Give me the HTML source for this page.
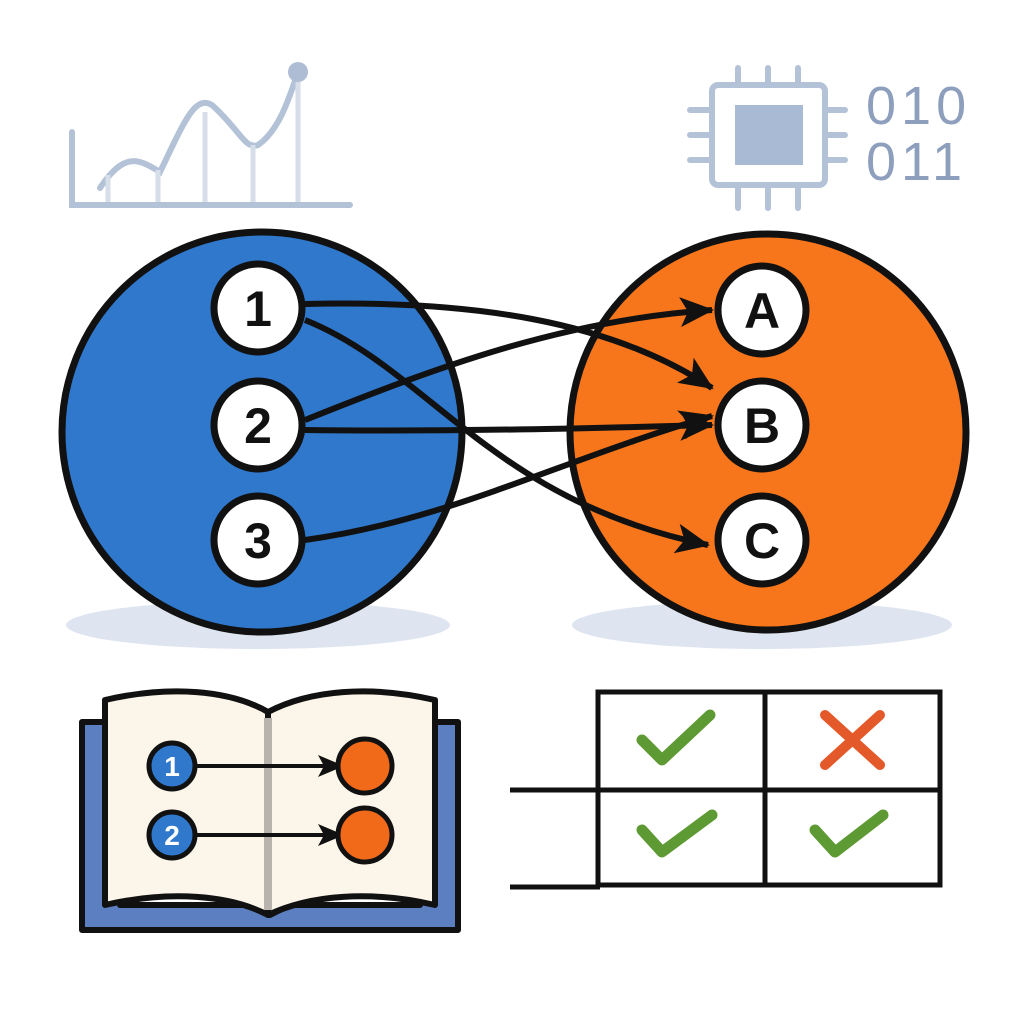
<!DOCTYPE html>
<html><head><style>body{margin:0;background:#fff}svg{display:block}</style></head><body>
<svg width="1024" height="1024" viewBox="0 0 1024 1024" xmlns="http://www.w3.org/2000/svg">
<defs>
<marker id="ah2" markerWidth="36" markerHeight="30" refX="32" refY="15" orient="auto" markerUnits="userSpaceOnUse"><path d="M0,0 L34,15 L0,30 L8,15z" fill="#111"/></marker>
<marker id="ah3" markerWidth="26" markerHeight="22" refX="24" refY="11" orient="auto" markerUnits="userSpaceOnUse"><path d="M0,0 L26,11 L0,22 L6,11z" fill="#111"/></marker>
</defs>
<g stroke="#b3c2d6" stroke-width="6" fill="none" stroke-linecap="round">
<path d="M72,132 V205 H350"/>
<path d="M100,188 C125,150 140,160 160,172 C185,120 195,95 212,105 C240,130 245,150 258,145 C280,130 290,95 298,72"/>
</g>
<g stroke="#d6dee9" stroke-width="5"><line x1="108" y1="175" x2="108" y2="202"/><line x1="158" y1="170" x2="158" y2="202"/><line x1="205" y1="112" x2="205" y2="202"/><line x1="253" y1="145" x2="253" y2="202"/><line x1="298" y1="80" x2="298" y2="202"/></g>
<circle cx="298" cy="72" r="10" fill="#aebdd3"/>
<rect x="712" y="85" width="113" height="100" rx="6" fill="none" stroke="#b3c2d6" stroke-width="6"/>
<rect x="735" y="105" width="68" height="60" fill="#a9bbd4"/>
<g stroke="#b3c2d6" stroke-width="6" stroke-linecap="round">
<line x1="738" y1="68" x2="738" y2="85"/><line x1="768" y1="68" x2="768" y2="85"/><line x1="798" y1="68" x2="798" y2="85"/>
<line x1="738" y1="185" x2="738" y2="208"/><line x1="768" y1="185" x2="768" y2="208"/><line x1="798" y1="185" x2="798" y2="208"/>
<line x1="690" y1="110" x2="712" y2="110"/><line x1="690" y1="135" x2="712" y2="135"/><line x1="690" y1="160" x2="712" y2="160"/>
<line x1="825" y1="110" x2="845" y2="110"/><line x1="825" y1="135" x2="845" y2="135"/><line x1="825" y1="160" x2="845" y2="160"/>
</g>
<g font-family="Liberation Sans, sans-serif" font-size="54" fill="#8d9fbd" letter-spacing="5">
<text x="866" y="124">010</text><text x="866" y="180">011</text></g>
<ellipse cx="258" cy="625" rx="192" ry="24" fill="#dfe5f0"/>
<ellipse cx="762" cy="625" rx="190" ry="24" fill="#dfe5f0"/>
<circle cx="262" cy="432" r="200" fill="#2f78cc" stroke="#111" stroke-width="7"/>
<circle cx="768" cy="432" r="198" fill="#f7761c" stroke="#111" stroke-width="7"/>
<g stroke="#111" stroke-width="6" fill="none" marker-end="url(#ah2)">
<path d="M305,304 C470,300 610,320 712,388"/>
<path d="M305,320 C430,370 490,500 708,545"/>
<path d="M305,420 C430,370 560,320 712,310"/>
<path d="M305,430 C450,432 600,428 712,425"/>
<path d="M305,540 C450,520 560,460 712,416"/>
</g>
<g stroke="#111" stroke-width="7" fill="#fff">
<circle cx="258" cy="308" r="44"/><circle cx="258" cy="425" r="44"/><circle cx="258" cy="540" r="44"/>
<circle cx="762" cy="310" r="44"/><circle cx="762" cy="425" r="44"/><circle cx="762" cy="540" r="44"/>
</g>
<g font-family="Liberation Sans, sans-serif" font-size="50" font-weight="bold" text-anchor="middle" fill="#111">
<text x="258" y="326">1</text><text x="258" y="443">2</text><text x="258" y="558">3</text>
<text x="762" y="328">A</text><text x="762" y="443">B</text><text x="762" y="558">C</text>
</g>
<path d="M82,722 H120 V905 H250 L270,915 L290,905 H420 V722 H458 V930 H82z" fill="#5b7fc0" stroke="#111" stroke-width="6" stroke-linejoin="round"/>
<path d="M105,700 C170,685 230,690 268,712 V915 C230,895 170,890 105,905z" fill="#fcf6ea" stroke="#111" stroke-width="6" stroke-linejoin="round"/>
<path d="M268,712 C310,690 370,685 435,700 V905 C370,890 310,895 268,915z" fill="#fcf6ea" stroke="#111" stroke-width="6" stroke-linejoin="round"/>
<line x1="268" y1="718" x2="268" y2="910" stroke="#b8b4ad" stroke-width="8"/>
<g stroke="#111" stroke-width="4" fill="none" marker-end="url(#ah3)"><line x1="195" y1="766" x2="342" y2="766"/><line x1="195" y1="835" x2="342" y2="835"/></g>
<g stroke="#111" stroke-width="5"><circle cx="172" cy="766" r="23" fill="#2f78cc"/><circle cx="172" cy="835" r="23" fill="#2f78cc"/>
<circle cx="365" cy="766" r="27" fill="#f06a1a"/><circle cx="365" cy="835" r="27" fill="#f06a1a"/></g>
<g font-family="Liberation Sans, sans-serif" font-size="28" font-weight="bold" text-anchor="middle" fill="#fff"><text x="172" y="776">1</text><text x="172" y="845">2</text></g>
<g stroke="#111" stroke-width="5" fill="none">
<rect x="598" y="692" width="342" height="193" fill="#fff"/>
<line x1="765" y1="692" x2="765" y2="885"/>
<line x1="510" y1="790" x2="940" y2="790"/>
<line x1="510" y1="887" x2="600" y2="887"/>
</g>
<g stroke="#5e9a33" stroke-width="11" fill="none" stroke-linecap="round" stroke-linejoin="round">
<path d="M642,740 L662,760 L710,715"/><path d="M642,830 L662,852 L712,815"/><path d="M815,830 L835,852 L883,815"/>
</g>
<g stroke="#e4592a" stroke-width="10" stroke-linecap="round"><line x1="825" y1="715" x2="880" y2="765"/><line x1="880" y1="715" x2="825" y2="765"/></g>
</svg>
</body></html>
